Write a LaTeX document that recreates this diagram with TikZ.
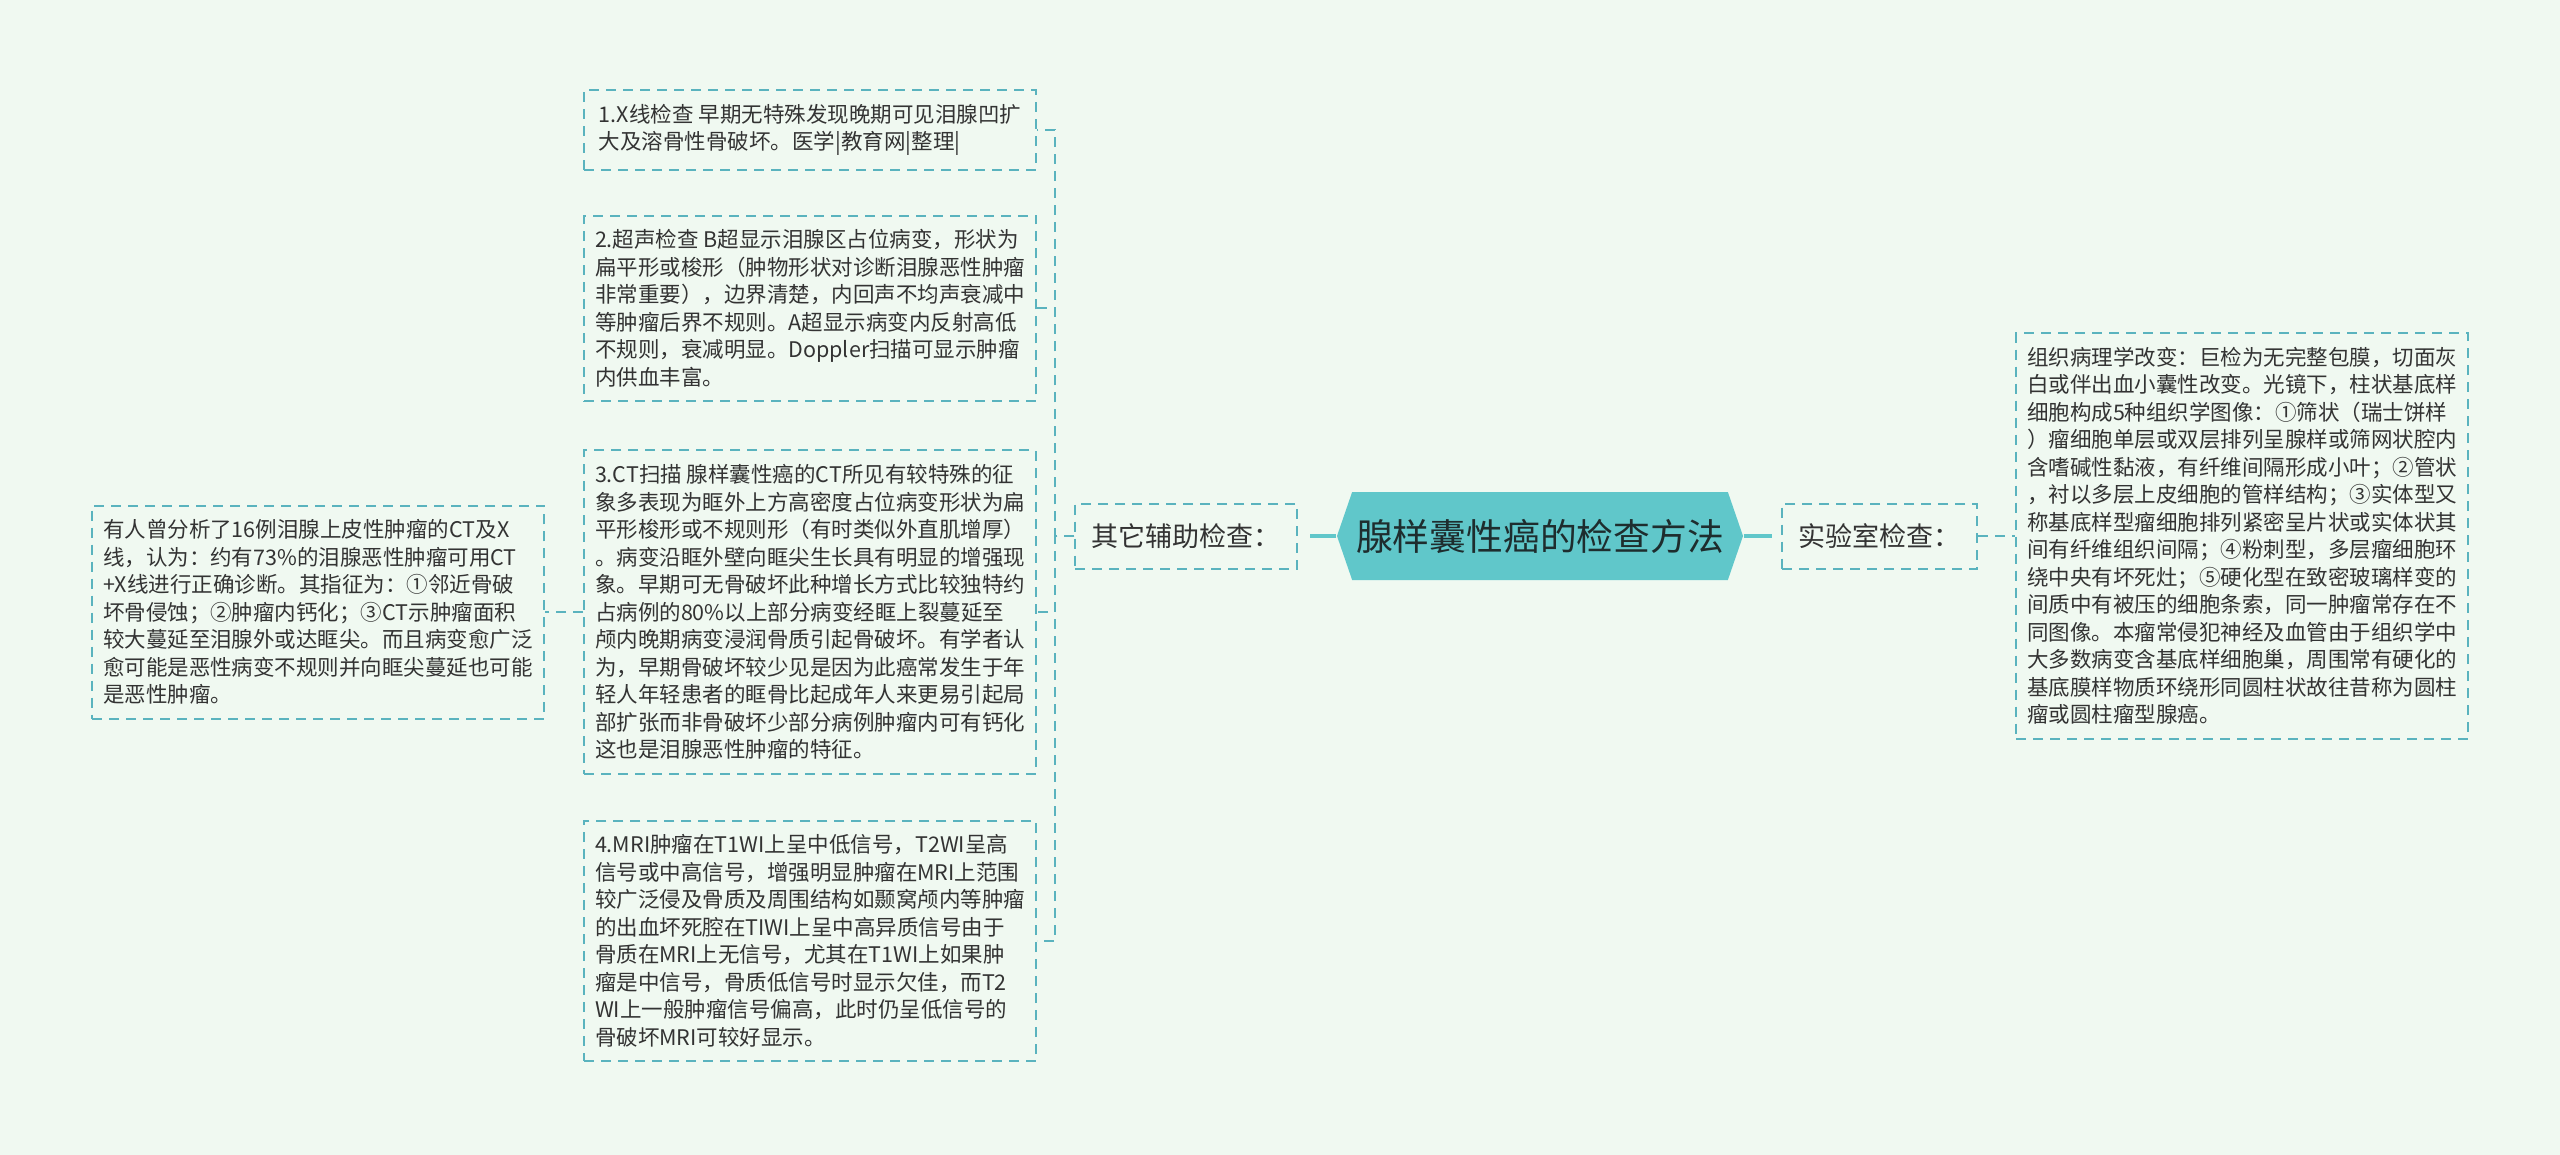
\documentclass[tikz,border=0pt]{standalone}
\usepackage{fontspec}
\setmainfont{Noto Sans CJK SC}
\usepackage{tikz}
\usetikzlibrary{shapes.symbols}

\definecolor{bgmint}{HTML}{F0F9F1}
\definecolor{mapteal}{HTML}{60C7CA}
\definecolor{maplines}{HTML}{5AB3BE}
\definecolor{maptext}{HTML}{333333}
\definecolor{roottext}{HTML}{1E2D2E}

\begin{document}
\begin{tikzpicture}[
            x = 0.5pt, y = -0.5pt, % one unit = one pixel of the sheet
            font = \fontsize{10.75}{13.75}\selectfont, % text of the leaves
            semithick % line style
        ]

        \tikzstyle{branch}=[
            draw = maplines,
            line width = 1pt,
            dash pattern = on 5pt off 3.5pt
        ]
        \tikzstyle{trunk}=[
            draw = mapteal,
            line width = 2pt
        ]
        \tikzstyle{leaf}=[
            branch,
            text = maptext,
            align = left,
            minimum width = 226pt,
            inner xsep = 5.5pt,
            inner ysep = 7pt
        ]
        \tikzstyle{topic}=[
            branch,
            text = maptext,
            font = \fontsize{13.5}{16}\selectfont,
            minimum height = 32.5pt,
            inner xsep = 8.25pt
        ]
        \tikzstyle{rootnode}=[
            shape = signal,
            signal to = west and east,
            signal pointer angle = 142,
            fill = mapteal,
            text = roottext,
            font = \fontsize{18.4}{22}\selectfont,
            minimum width = 203pt,
            minimum height = 44pt,
            inner sep = 0pt
        ]

        \fill[bgmint] (0,0) rectangle (2560,1155);

        \node[rootnode] (root) at (1540,536) {腺样囊性癌的检查方法};
        \node[topic] (other) at (1186,536) {其它辅助检查：};
        \node[topic] (lab) at (1879.5,536) {实验室检查：};
        \coordinate (bus) at (1055,536);

        \node[leaf] (xray) at (810,130) {1.X线检查 早期无特殊发现晚期可见泪腺凹扩\\大及溶骨性骨破坏。医学|教育网|整理|};
        \node[leaf] (ultra) at (810,308.5) {2.超声检查 B超显示泪腺区占位病变，形状为\\扁平形或梭形（肿物形状对诊断泪腺恶性肿瘤\\非常重要），边界清楚，内回声不均声衰减中\\等肿瘤后界不规则。A超显示病变内反射高低\\不规则，衰减明显。Doppler扫描可显示肿瘤\\内供血丰富。};
        \node[leaf] (ct) at (810,612) {3.CT扫描 腺样囊性癌的CT所见有较特殊的征\\象多表现为眶外上方高密度占位病变形状为扁\\平形梭形或不规则形（有时类似外直肌增厚）\\。病变沿眶外壁向眶尖生长具有明显的增强现\\象。早期可无骨破坏此种增长方式比较独特约\\占病例的80\%以上部分病变经眶上裂蔓延至\\颅内晚期病变浸润骨质引起骨破坏。有学者认\\为，早期骨破坏较少见是因为此癌常发生于年\\轻人年轻患者的眶骨比起成年人来更易引起局\\部扩张而非骨破坏少部分病例肿瘤内可有钙化\\这也是泪腺恶性肿瘤的特征。};
        \node[leaf] (mri) at (810,941) {4.MRI肿瘤在T1WI上呈中低信号，T2WI呈高\\信号或中高信号，增强明显肿瘤在MRI上范围\\较广泛侵及骨质及周围结构如颞窝颅内等肿瘤\\的出血坏死腔在TIWI上呈中高异质信号由于\\骨质在MRI上无信号，尤其在T1WI上如果肿\\瘤是中信号，骨质低信号时显示欠佳，而T2\\WI上一般肿瘤信号偏高，此时仍呈低信号的\\骨破坏MRI可较好显示。};
        \node[leaf] (note) at (318,612) {有人曾分析了16例泪腺上皮性肿瘤的CT及X\\线，认为：约有73\%的泪腺恶性肿瘤可用CT\\+X线进行正确诊断。其指征为：①邻近骨破\\坏骨侵蚀；②肿瘤内钙化；③CT示肿瘤面积\\较大蔓延至泪腺外或达眶尖。而且病变愈广泛\\愈可能是恶性病变不规则并向眶尖蔓延也可能\\是恶性肿瘤。};
        \node[leaf] (patho) at (2242,536) {组织病理学改变：巨检为无完整包膜，切面灰\\白或伴出血小囊性改变。光镜下，柱状基底样\\细胞构成5种组织学图像：①筛状（瑞士饼样\\）瘤细胞单层或双层排列呈腺样或筛网状腔内\\含嗜碱性黏液，有纤维间隔形成小叶；②管状\\，衬以多层上皮细胞的管样结构；③实体型又\\称基底样型瘤细胞排列紧密呈片状或实体状其\\间有纤维组织间隔；④粉刺型，多层瘤细胞环\\绕中央有坏死灶；⑤硬化型在致密玻璃样变的\\间质中有被压的细胞条索，同一肿瘤常存在不\\同图像。本瘤常侵犯神经及血管由于组织学中\\大多数病变含基底样细胞巢，周围常有硬化的\\基底膜样物质环绕形同圆柱状故往昔称为圆柱\\瘤或圆柱瘤型腺癌。};

        \draw[trunk, shorten >= 6pt] (root.west) -- (other.east);
        \draw[trunk, shorten >= 4.5pt] (root.east) -- (lab.west);

        \foreach \n in {xray, ultra, ct, mri}
            \draw[branch] (other.west) -- (bus) |- (\n.east);
        \draw[branch] (ct.west) -- (ct.west -| note.east);
        \draw[branch] (lab.east) -- (lab.east -| patho.west);

  \end{tikzpicture}
\end{document}
